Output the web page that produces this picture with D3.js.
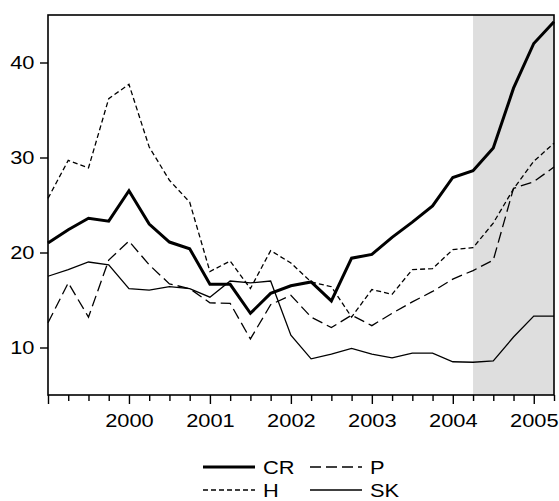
<!DOCTYPE html>
<html>
<head>
<meta charset="utf-8">
<script src="https://cdn.jsdelivr.net/npm/d3@7"></script>
<style>
  body { margin: 0; background: #fff; }
  text { font-family: "Liberation Sans", Arial, sans-serif; fill: #000; }
</style>
</head>
<body>
<svg id="chart" width="559" height="501"></svg>
<script>
// quarterly observations, 1999Q1 .. 2005Q2
const quarters = ["1999Q1","1999Q2","1999Q3","1999Q4","2000Q1","2000Q2","2000Q3","2000Q4",
  "2001Q1","2001Q2","2001Q3","2001Q4","2002Q1","2002Q2","2002Q3","2002Q4",
  "2003Q1","2003Q2","2003Q3","2003Q4","2004Q1","2004Q2","2004Q3","2004Q4",
  "2005Q1","2005Q2"];
const yearLabels = ["2000","2001","2002","2003","2004","2005"];
const yTicks = [10, 20, 30, 40];
const shadeFrom = "2004Q2";

const CR = [21.0, 22.4, 23.6, 23.3, 26.5, 23.0, 21.1, 20.4, 16.65, 16.65, 13.6, 15.7, 16.5,
  16.9, 14.9, 19.4, 19.8, 21.6, 23.2, 24.9, 27.9, 28.6, 31.0, 37.3, 42.0, 44.3];
const H = [25.7, 29.7, 28.9, 36.2, 37.7, 31.1, 27.6, 25.3, 18.0, 19.1, 16.2, 20.2, 18.9,
  16.9, 16.4, 13.2, 16.1, 15.6, 18.2, 18.3, 20.3, 20.5, 23.1, 26.7, 29.6, 31.5];
const P = [12.6, 16.8, 13.2, 19.2, 21.2, 18.7, 16.7, 16.2, 14.7, 14.65, 10.9, 14.5, 15.5,
  13.2, 12.1, 13.4, 12.3, 13.6, 14.8, 15.9, 17.2, 18.1, 19.2, 26.75, 27.45, 29.0];
const SK = [17.5, 18.2, 19.0, 18.7, 16.2, 16.05, 16.4, 16.2, 15.3, 17.0, 16.8, 17.0, 11.3,
  8.8, 9.3, 9.9, 9.3, 8.9, 9.4, 9.4, 8.5, 8.45, 8.6, 11.1, 13.3, 13.3];

const series = [
  { name: "CR", values: CR, width: 3, dash: null },
  { name: "P", values: P, width: 1.3, dash: "11,5" },
  { name: "H", values: H, width: 1.3, dash: "5,3" },
  { name: "SK", values: SK, width: 1.3, dash: null }
];

const svg = d3.select("#chart");
const m = { left: 48, right: 554, top: 15, bottom: 395 };
const sx = 1.18; // glyphs in the original are a bit wide

const x = d3.scalePoint().domain(quarters).range([m.left, m.right]);
const y = d3.scaleLinear().domain([5, 45]).range([m.bottom, m.top]);

// forecast shading
svg.append("rect")
  .attr("x", x(shadeFrom)).attr("y", m.top)
  .attr("width", m.right - x(shadeFrom)).attr("height", m.bottom - m.top)
  .attr("fill", "#dedede");

// x axis
const xAxis = svg.append("g")
  .attr("transform", `translate(0,${m.bottom})`)
  .call(d3.axisBottom(x).tickSize(6).tickPadding(13)
    .tickFormat(q => q.endsWith("Q1") && yearLabels.includes(q.slice(0, 4)) ? q.slice(0, 4) : ""));
xAxis.select(".domain").remove();
xAxis.selectAll(".tick line").attr("stroke-width", 1.4)
  .attr("y2", q => q.endsWith("Q1") ? 9 : 6);
xAxis.selectAll(".tick text")
  .attr("font-size", 18.5).attr("font-family", null)
  .attr("transform", `scale(${sx},1)`);

// y axis
const yAxis = svg.append("g")
  .attr("transform", `translate(${m.left},0)`)
  .call(d3.axisLeft(y).tickValues(yTicks).tickSize(8).tickPadding(5));
yAxis.select(".domain").remove();
yAxis.selectAll(".tick line").attr("stroke-width", 1.4);
yAxis.selectAll(".tick text")
  .attr("font-size", 18.5).attr("font-family", null)
  .attr("x", -13.5 / sx)
  .attr("transform", `scale(${sx},1)`)
  .attr("dy", "0.34em");

// lines
const line = d3.line().x((d, i) => x(quarters[i])).y(d => y(d));
series.forEach(s => {
  svg.append("path")
    .datum(s.values)
    .attr("fill", "none")
    .attr("stroke", "#000")
    .attr("stroke-width", s.width)
    .attr("stroke-dasharray", s.dash)
    .attr("stroke-linejoin", "miter")
    .attr("d", line);
});

// frame
svg.append("rect")
  .attr("x", m.left).attr("y", m.top)
  .attr("width", m.right - m.left).attr("height", m.bottom - m.top)
  .attr("fill", "none").attr("stroke", "#000").attr("stroke-width", 1.6);

// legend
const legendItems = [
  { s: series[0], lx: 203, ly: 467 },
  { s: series[1], lx: 310, ly: 467 },
  { s: series[2], lx: 203, ly: 490 },
  { s: series[3], lx: 310, ly: 490 }
];
legendItems.forEach(it => {
  const g = svg.append("g").attr("transform", `translate(${it.lx},${it.ly})`);
  g.append("line")
    .attr("x1", 0).attr("x2", 52).attr("y1", 0).attr("y2", 0)
    .attr("stroke", "#000")
    .attr("stroke-width", it.s.width)
    .attr("stroke-dasharray", it.s.dash);
  g.append("text")
    .attr("x", 60 / sx).attr("dy", "0.36em")
    .attr("transform", `scale(${sx},1)`)
    .attr("font-size", 18.5)
    .text(it.s.name);
});
</script>
</body>
</html>
